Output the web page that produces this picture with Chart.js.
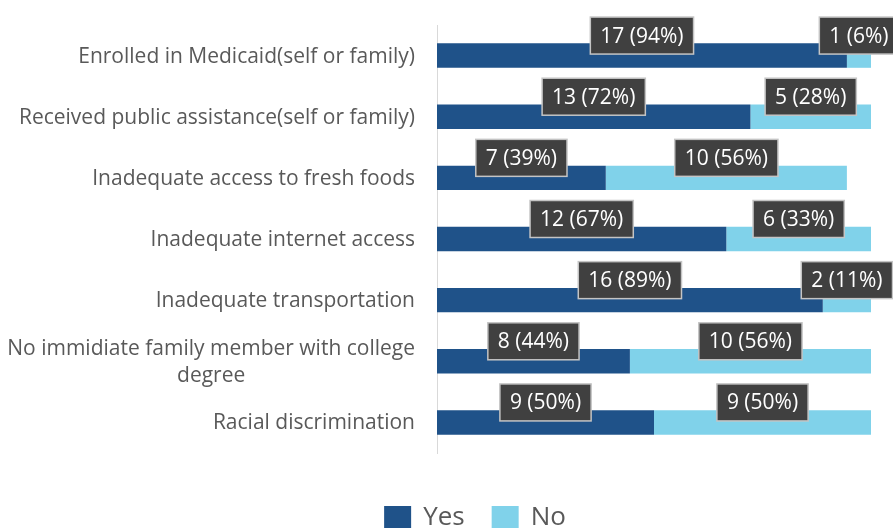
<!DOCTYPE html>
<html>
<head>
<meta charset="utf-8">
<script src="https://cdn.jsdelivr.net/npm/chart.js@4/dist/chart.umd.min.js"></script>
<style>
  html, body { margin: 0; padding: 0; background: #ffffff; }
  #wrap { width: 893px; height: 529px; }
</style>
</head>
<body>
<div id="wrap"><canvas id="chart" width="893" height="529"></canvas></div>
<script>
// Survey barriers: counts of Yes / No answers (18 respondents)
const categories = [
  'Enrolled in Medicaid(self or family)',
  'Received public assistance(self or family)',
  'Inadequate access to fresh foods',
  'Inadequate internet access',
  'Inadequate transportation',
  ['No immidiate family member with college', 'degree'],
  'Racial discrimination'
];
const yesCounts = [17, 13, 7, 12, 16, 8, 9];
const noCounts  = [1, 5, 10, 6, 2, 10, 9];
const yesPct    = [94, 72, 39, 67, 89, 44, 50];
const noPct     = [6, 28, 56, 33, 11, 56, 50];
const axisMax = 18;

const YES_COLOR = '#1F5289';
const NO_COLOR = '#80D2EA';
const TEXT_GREY = '#595959';
const FONT = '"Open Sans", "Noto Sans", sans-serif';

// Category names at the left, right-aligned as blocks, multi-line blocks centred
const categoryLabels = {
  id: 'categoryLabels',
  afterDraw(chart) {
    const ctx = chart.ctx;
    const y = chart.scales.y;
    const rightX = 415;
    const lineH = 27;
    ctx.save();
    ctx.font = '21px ' + FONT;
    ctx.fillStyle = TEXT_GREY;
    ctx.textBaseline = 'middle';
    chart.data.labels.forEach((lab, i) => {
      const lines = Array.isArray(lab) ? lab : [lab];
      const cy = y.getPixelForValue(i) + 1;
      const widths = lines.map(l => ctx.measureText(l).width);
      const w = Math.max(...widths);
      const cx = rightX - w / 2;
      ctx.textAlign = 'center';
      lines.forEach((l, k) => {
        const ly = cy + (k - (lines.length - 1) / 2) * lineH;
        ctx.fillText(l, cx, ly);
      });
    });
    ctx.restore();
  }
};

// Dark callout boxes with "count (pct%)" above each segment
const valueCallouts = {
  id: 'valueCallouts',
  afterDatasetsDraw(chart) {
    const ctx = chart.ctx;
    ctx.save();
    ctx.font = '21px ' + FONT;
    ctx.textAlign = 'center';
    ctx.textBaseline = 'middle';
    chart.data.datasets.forEach((ds, di) => {
      const meta = chart.getDatasetMeta(di);
      meta.data.forEach((bar, i) => {
        const text = ds.data[i] + ' (' + ds.pct[i] + '%)';
        const cx = (bar.x + bar.base) / 2;
        const cy = bar.y - 20;
        const w = ctx.measureText(text).width + 20;
        const h = 37;
        ctx.fillStyle = '#404040';
        ctx.fillRect(cx - w / 2, cy - h / 2, w, h);
        ctx.strokeStyle = '#c4c4c4';
        ctx.lineWidth = 1.5;
        ctx.strokeRect(cx - w / 2, cy - h / 2, w, h);
        ctx.fillStyle = '#ffffff';
        ctx.fillText(text, cx, cy + 1);
      });
    });
    ctx.restore();
  }
};

// Legend along the bottom
const bottomLegend = {
  id: 'bottomLegend',
  afterDraw(chart) {
    const ctx = chart.ctx;
    const boxW = 27, boxH = 22, gap = 12, spacing = 27;
    const centerX = 475, centerY = 517;
    ctx.save();
    ctx.font = '26px ' + FONT;
    ctx.textBaseline = 'middle';
    ctx.textAlign = 'left';
    const items = chart.data.datasets.map(ds => ({
      text: ds.label, color: ds.backgroundColor,
      w: boxW + gap + ctx.measureText(ds.label).width
    }));
    const total = items.reduce((s, it) => s + it.w, 0) + spacing * (items.length - 1);
    let x = centerX - total / 2;
    items.forEach(it => {
      ctx.fillStyle = it.color;
      ctx.fillRect(x, centerY - boxH / 2, boxW, boxH);
      ctx.fillStyle = TEXT_GREY;
      ctx.fillText(it.text, x + boxW + gap, centerY + 1);
      x += it.w + spacing;
    });
    ctx.restore();
  }
};

new Chart(document.getElementById('chart'), {
  type: 'bar',
  data: {
    labels: categories,
    datasets: [
      { label: 'Yes', data: yesCounts, pct: yesPct, backgroundColor: YES_COLOR,
        categoryPercentage: 0.4, barPercentage: 1.0 },
      { label: 'No', data: noCounts, pct: noPct, backgroundColor: NO_COLOR,
        categoryPercentage: 0.4, barPercentage: 1.0 }
    ]
  },
  options: {
    indexAxis: 'y',
    responsive: false,
    animation: false,
    devicePixelRatio: 1,
    layout: { padding: { top: 25, right: 22, bottom: 76, left: 0 } },
    plugins: {
      legend: { display: false },
      tooltip: { enabled: false }
    },
    scales: {
      x: {
        stacked: true, min: 0, max: axisMax, display: false
      },
      y: {
        stacked: true,
        grid: { display: false },
        border: { display: true, color: '#d9d9d9', width: 1 },
        ticks: { display: false },
        afterFit(scale) { scale.width = 437; }
      }
    }
  },
  plugins: [categoryLabels, valueCallouts, bottomLegend]
});
</script>
</body>
</html>
